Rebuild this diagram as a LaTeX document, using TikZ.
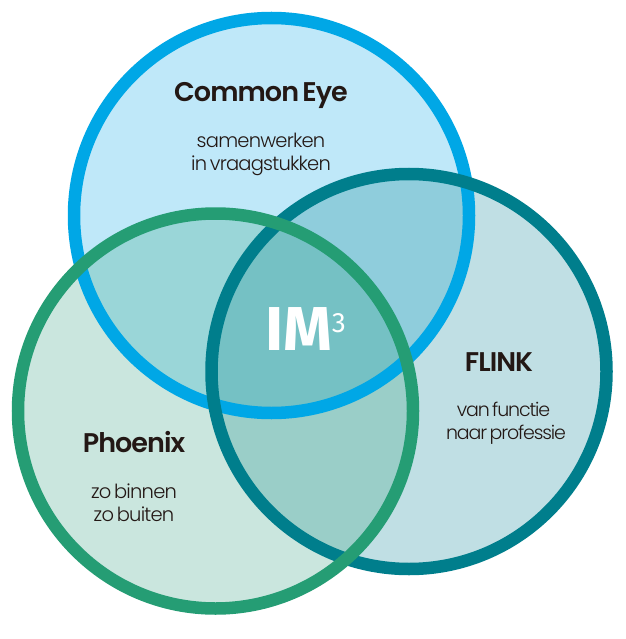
\documentclass[tikz,border=0pt]{standalone}
\usepackage{fontspec}
\setmainfont{Poppins}
\newfontfamily\titlefont[WordSpace=0.6,LetterSpace=-3.5]{Poppins SemiBold}
\newfontfamily\subfont[WordSpace=0.6,LetterSpace=-4]{Poppins Light}
\newfontfamily\logofont{Fira Sans}
\usetikzlibrary{positioning}
\definecolor{eyeblue}{HTML}{00A7E6}
\definecolor{flinkteal}{HTML}{007E8C}
\definecolor{phoenixgreen}{HTML}{259D74}
\definecolor{eyefill}{HTML}{BFE8F9}
\definecolor{flinkfill}{HTML}{C0DFE4}
\definecolor{phoenixfill}{HTML}{CAE6DE}
\definecolor{eyeflink}{HTML}{8FCDDC}
\definecolor{eyephoenix}{HTML}{9AD6D8}
\definecolor{flinkphoenix}{HTML}{9ACEC8}
\definecolor{allthree}{HTML}{75C1C4}
\definecolor{inktext}{HTML}{231815}
\newcommand{\discr}{197.5pt}
\tikzset{%
        ring/.style = {circle, draw = #1, line width = 12.5pt, minimum size = 395pt, inner sep = 0pt, outer sep = 0pt},
        title/.style = {text = inktext, font = \fontsize{27}{27}\selectfont\titlefont, text height = 20pt, text depth = 0pt, inner sep = 0pt},
        sub/.style = {text = inktext, align = center, font = \fontsize{19.5}{23}\selectfont\subfont, inner sep = 0pt, node distance = 31pt}
}

\begin{document}
\begin{tikzpicture}[x=1pt,y=-1pt]
            \useasboundingbox (0,0) rectangle (625,639);
            \coordinate (eyec) at (271.5,215.5);
            \coordinate (flinkc) at (409,371.5);
            \coordinate (phoenixc) at (215.5,411);
            % tinted areas
            \fill[flinkfill] (flinkc) circle (\discr);
            \fill[phoenixfill] (phoenixc) circle (\discr);
            \begin{scope}
                \clip (flinkc) circle (\discr);
                \fill[flinkphoenix] (phoenixc) circle (\discr);
            \end{scope}
            \fill[eyefill] (eyec) circle (\discr);
            \begin{scope}
                \clip (eyec) circle (\discr);
                \fill[eyeflink] (flinkc) circle (\discr);
                \fill[eyephoenix] (phoenixc) circle (\discr);
                \clip (flinkc) circle (\discr);
                \fill[allthree] (phoenixc) circle (\discr);
            \end{scope}
            % rings on top
            \node[ring = eyeblue] (eye) at (eyec) {};
            \node[ring = flinkteal] (flink) at (flinkc) {};
            \node[ring = phoenixgreen] (phoenix) at (phoenixc) {};
            % labels
            \node[title] (eyetitle) at (261,92) {Common Eye};
            \node[sub, below = of eyetitle] (eyesub) {samenwerken\\in vraagstukken};
            \node[title] (flinktitle) at (499,361) {FLINK};
            \node[sub, below = of flinktitle, xshift = 7pt, font = \fontsize{19}{23}\selectfont\subfont\addfontfeature{LetterSpace=-6}] (flinksub) {van functie\kern 5pt\\naar professie};
            \node[title] (phoenixtitle) at (134,442) {Phoenix};
            \node[sub, below = of phoenixtitle] (phoenixsub) {zo binnen\\zo buiten};
            \node[text = white, inner sep = 0pt, font = \fontsize{62}{62}\selectfont\logofont\bfseries] (im) at (305.5,329) {IM\raisebox{18pt}{\fontsize{28}{28}\selectfont\mdseries 3}};
        \end{tikzpicture}
\end{document}
